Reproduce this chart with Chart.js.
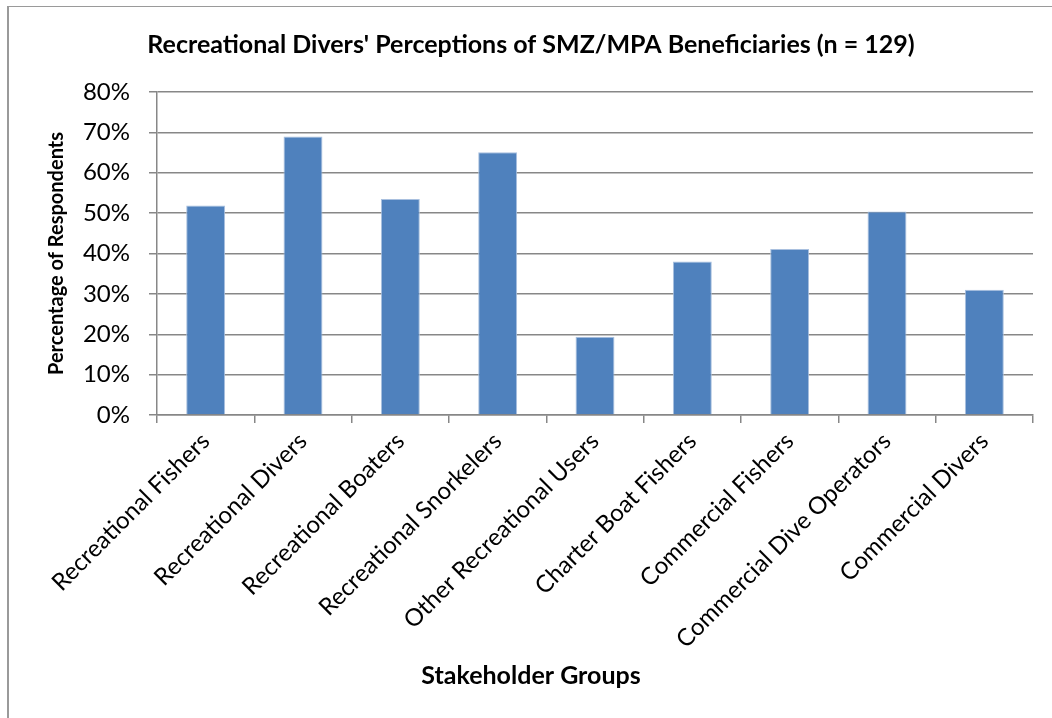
<!DOCTYPE html>
<html>
<head>
<meta charset="utf-8">
<script src="https://cdn.jsdelivr.net/npm/chart.js@4.4.0/dist/chart.umd.min.js"></script>
<style>
  html, body { margin: 0; padding: 0; background: #fff; }
  #moldura {
    position: absolute; left: 7px; top: 6px; width: 1100px; height: 800px;
    border-left: 2px solid #9a9a9a; border-top: 1.5px solid #9a9a9a;
  }
  #caixa { position: absolute; left: 0; top: 0; width: 1052px; height: 718px; }
</style>
</head>
<body>
<div id="moldura"></div>
<div id="caixa"><canvas id="grafico"></canvas></div>
<script>
// categorias e valores (% dos respondentes, n = 129)
const grupos = [
  "Recreational Fishers",
  "Recreational Divers",
  "Recreational Boaters",
  "Recreational Snorkelers",
  "Other Recreational Users",
  "Charter Boat Fishers",
  "Commercial Fishers",
  "Commercial Dive Operators",
  "Commercial Divers"
];
const percentuais = [51.9, 69.0, 53.5, 65.1, 19.4, 38.0, 41.1, 50.4, 31.0];
const ticksY = [0, 10, 20, 30, 40, 50, 60, 70, 80];

const tituloGrafico = "Recreational Divers' Perceptions of SMZ/MPA Beneficiaries (n = 129)";
const tituloX = "Stakeholder Groups";
const tituloY = "Percentage of Respondents";

const cores = {
  barra: "#4f81bd",
  bordaBarra: "#a9c0df",
  grade: "#878787",
  texto: "#000000"
};

const fonte = "Lato, 'Open Sans', sans-serif";

new Chart(document.getElementById("grafico"), {
  type: "bar",
  data: {
    labels: grupos,
    datasets: [{
      data: percentuais,
      backgroundColor: cores.barra,
      borderColor: cores.bordaBarra,
      borderWidth: 1,
      categoryPercentage: 1.0,
      barPercentage: 0.4
    }]
  },
  options: {
    responsive: true,
    maintainAspectRatio: false,
    animation: false,
    layout: { padding: { left: 29, right: 19, top: 0, bottom: 0 } },
    plugins: {
      legend: { display: false },
      tooltip: { enabled: false },
      title: {
        display: true,
        text: tituloGrafico,
        color: cores.texto,
        font: { family: fonte, size: 25, weight: "bold", lineHeight: 1.2 },
        padding: { top: 30, bottom: 32 }
      },
      // titulo do eixo X centrado no grafico inteiro (como no original)
      subtitle: {
        display: true,
        position: "bottom",
        text: tituloX,
        color: cores.texto,
        font: { family: fonte, size: 25, weight: "bold", lineHeight: 1.2 },
        padding: { top: 0, bottom: 27 }
      }
    },
    scales: {
      x: {
        offset: true,
        grid: { display: true, drawOnChartArea: false, drawTicks: true, offset: true, tickLength: 8, color: cores.grade, lineWidth: 1.5 },
        border: { display: true, color: cores.grade, width: 1.5 },
        ticks: {
          autoSkip: false, minRotation: 45, maxRotation: 45,
          color: cores.texto, padding: 4,
          font: { family: fonte, size: 24 }
        },
        afterFit: (s) => { s.height = 246; }
      },
      y: {
        min: 0, max: 80,
        afterBuildTicks: (s) => { s.ticks = ticksY.map(v => ({ value: v })); },
        grid: { color: cores.grade, lineWidth: 1.5, tickLength: 8 },
        border: { display: true, color: cores.grade, width: 1.5 },
        ticks: {
          color: cores.texto, padding: 19,
          font: { family: fonte, size: 24 },
          callback: (v) => v + "%"
        },
        title: {
          display: true, text: tituloY, color: cores.texto,
          font: { family: fonte, size: 20, weight: "bold", lineHeight: 1.2 },
          padding: { top: 16, bottom: 0 }
        },
        afterFit: (s) => { s.width = 128; }
      }
    }
  }
});
</script>
</body>
</html>
